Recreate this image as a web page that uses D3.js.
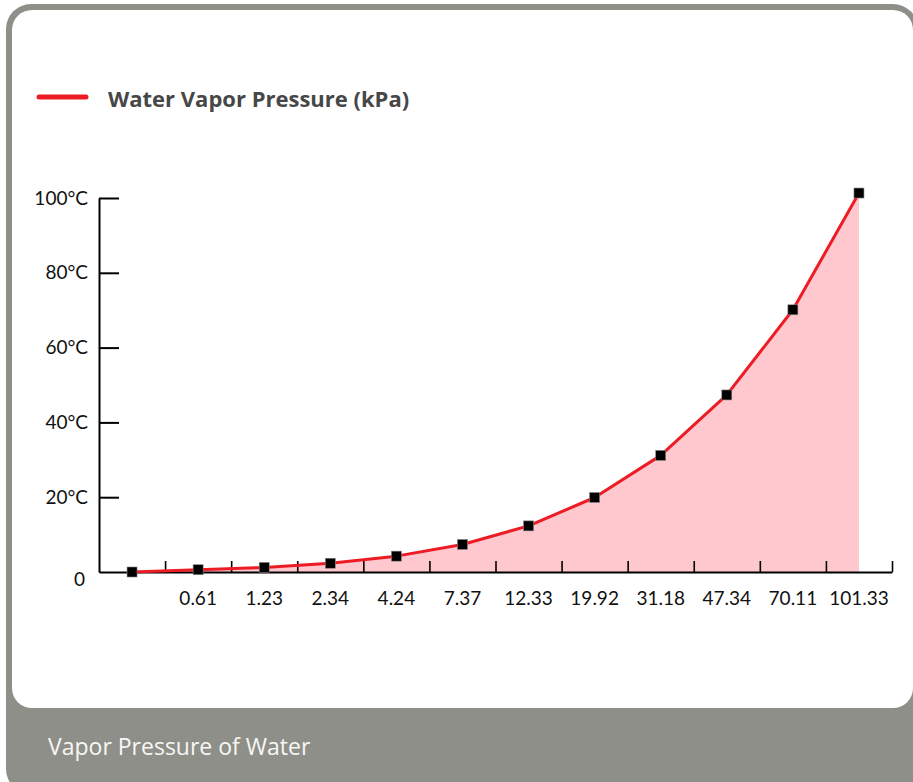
<!DOCTYPE html>
<html>
<head>
<meta charset="utf-8">
<script src="https://cdn.jsdelivr.net/npm/d3@7"></script>
<style>
  html, body { margin: 0; padding: 0; background: #ffffff; }
  svg { display: block; }
</style>
</head>
<body>
<div id="chart"></div>
<script>
// ---- Data ----
const xLabels = ["", "0.61", "1.23", "2.34", "4.24", "7.37", "12.33", "19.92", "31.18", "47.34", "70.11", "101.33"];
const pressureValues = [0, 0.61, 1.23, 2.34, 4.24, 7.37, 12.33, 19.92, 31.18, 47.34, 70.11, 101.33];
const yTickValues = [0, 20, 40, 60, 80, 100];
const yTickLabels = ["0", "20°C", "40°C", "60°C", "80°C", "100°C"];
const seriesName = "Water Vapor Pressure (kPa)";
const footerTitle = "Vapor Pressure of Water";

// ---- Layout ----
const W = 913, H = 782;
const plot = { left: 99, right: 892, top: 198, bottom: 572 };
const gray = "#8f8f89";
const red = "#ed1c24";
const pink = "#ffc8cf";

const svg = d3.select("#chart").append("svg").attr("width", W).attr("height", H);

// Frame
svg.append("rect").attr("x", 6).attr("y", 4).attr("width", 912).attr("height", 790)
  .attr("rx", 25).attr("ry", 25).attr("fill", gray);
svg.append("rect").attr("x", 12).attr("y", 10).attr("width", 901).attr("height", 698)
  .attr("rx", 20).attr("ry", 20).attr("fill", "#ffffff");

// Footer title
svg.append("text").attr("x", 48).attr("y", 755)
  .attr("font-family", "'Open Sans', sans-serif").attr("font-size", 23)
  .attr("fill", "#f7f7f5").text(footerTitle);

// Legend
svg.append("line").attr("x1", 39).attr("x2", 86).attr("y1", 97).attr("y2", 97)
  .attr("stroke", red).attr("stroke-width", 5).attr("stroke-linecap", "round");
svg.append("text").attr("x", 108).attr("y", 107)
  .attr("font-family", "'Open Sans', sans-serif").attr("font-weight", "bold")
  .attr("font-size", 22).attr("fill", "#474747").text(seriesName);

// Scales
const x = d3.scaleBand().domain(d3.range(xLabels.length)).range([plot.left, plot.right]).padding(0);
const xEdge = d3.scaleLinear().domain([0, xLabels.length]).range([plot.left, plot.right]);
const y = d3.scaleLinear().domain([0, 100]).range([plot.bottom, plot.top]);
const cx = i => x(i) + x.bandwidth() / 2;

// Area + line
const pts = pressureValues.map((v, i) => [cx(i), y(v)]);
const area = d3.area().x(d => d[0]).y0(y(0)).y1(d => d[1]);
const line = d3.line().x(d => d[0]).y(d => d[1]);

svg.append("path").datum(pts).attr("d", area).attr("fill", pink);

// Axes
const gx = svg.append("g").attr("transform", `translate(0,${plot.bottom})`)
  .call(d3.axisBottom(xEdge).tickValues(d3.range(1, xLabels.length + 1)).tickSize(-11).tickSizeOuter(0).tickFormat(""));
gx.select(".domain").attr("stroke", "#000").attr("stroke-width", 2);
gx.selectAll(".tick line").attr("stroke", "#000").attr("stroke-width", 1.6);

const gxl = svg.append("g").attr("transform", `translate(0,${plot.bottom})`)
  .call(d3.axisBottom(x).tickSize(0).tickPadding(20).tickFormat(i => xLabels[i]));
gxl.select(".domain").remove();
gxl.selectAll("text").attr("font-family", "Lato, sans-serif").attr("font-size", 19).attr("fill", "#111");

const gy = svg.append("g").attr("transform", `translate(${plot.left},0)`)
  .call(d3.axisLeft(y).tickValues(yTickValues).tickSize(-20).tickSizeOuter(0).tickPadding(11)
    .tickFormat((d, i) => yTickLabels[i]));
gy.select(".domain").attr("stroke", "#000").attr("stroke-width", 2);
gy.selectAll(".tick line").attr("stroke", "#000").attr("stroke-width", 2)
  .filter(d => d === 0).remove();
gy.selectAll("text").attr("font-family", "Lato, sans-serif").attr("font-size", 19).attr("fill", "#111");
gy.selectAll(".tick").filter(d => d === 0).select("text").attr("dy", "0.7em").attr("x", -14);

// Line
svg.append("path").datum(pts).attr("d", line).attr("fill", "none")
  .attr("stroke", red).attr("stroke-width", 3).attr("stroke-linejoin", "round");

// Markers
svg.append("g").selectAll("rect").data(pressureValues).join("rect")
  .attr("x", (d, i) => cx(i) - 5).attr("y", d => y(d) - 5)
  .attr("width", 10).attr("height", 10)
  .attr("fill", "#000").attr("stroke", "#888").attr("stroke-width", 0.6);
</script>
</body>
</html>
